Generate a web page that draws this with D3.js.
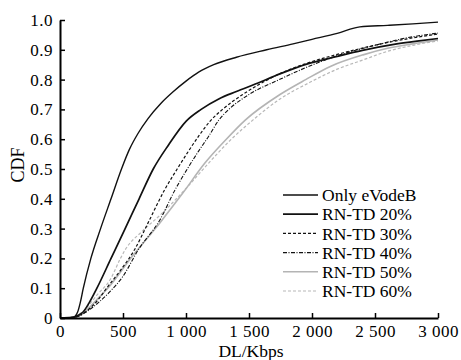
<!DOCTYPE html>
<html><head><meta charset="utf-8">
<script src="https://cdn.jsdelivr.net/npm/d3@7"></script>
<style>body{margin:0;background:#fff}text{font-family:"Liberation Serif","Times New Roman",serif;fill:#000}</style>
</head><body><svg id="c" width="461" height="360"></svg>
<script>
const seriesNames = ["Only eVodeB","RN-TD 20%","RN-TD 30%","RN-TD 40%","RN-TD 50%","RN-TD 60%"];
const xEvodeb = [0,100,120,140,160,185,245,322,405,488,550,620,700,800,900,1000,1100,1220,1400,1640,1850,2000,2200,2380,2600,2800,3000];
const yEvodeb = [0,0.002,0.006,0.02,0.05,0.1,0.2,0.3,0.4,0.5,0.565,0.62,0.67,0.72,0.76,0.795,0.825,0.85,0.875,0.9,0.92,0.935,0.955,0.977,0.982,0.987,0.993];
const x20 = [0,100,140,183,230,293,405,517,628,740,860,1000,1120,1260,1400,1550,1750,1958,2200,2400,2650,2850,3000];
const y20 = [0,0.002,0.008,0.02,0.05,0.1,0.2,0.3,0.4,0.5,0.58,0.66,0.7,0.735,0.76,0.785,0.82,0.852,0.878,0.898,0.918,0.93,0.938];
const x30 = [0,100,150,200,300,370,480,590,700,830,930,1020,1100,1190,1290,1450,1650,1800,1960,2250,2550,2800,3000];
const y30 = [0,0.002,0.008,0.02,0.06,0.1,0.16,0.228,0.32,0.43,0.5,0.56,0.61,0.66,0.7,0.75,0.8,0.83,0.855,0.89,0.92,0.94,0.953];
const x40 = [0,100,150,200,300,400,500,620,794,913,1010,1100,1180,1260,1340,1500,1740,1950,2200,2500,2750,3000];
const y40 = [0,0.002,0.006,0.018,0.05,0.09,0.14,0.228,0.33,0.43,0.5,0.56,0.61,0.664,0.7,0.75,0.8,0.84,0.88,0.915,0.94,0.956];
const x50 = [0,100,150,200,300,400,560,794,976,1150,1320,1470,1746,1950,2150,2405,2600,2800,3000];
const y50 = [0,0.002,0.008,0.022,0.065,0.11,0.2,0.32,0.42,0.52,0.6,0.664,0.75,0.8,0.845,0.883,0.905,0.92,0.933];
const x60 = [0,100,150,200,300,400,480,516,650,794,990,1180,1360,1530,1746,1980,2200,2405,2600,2800,3000];
const y60 = [0,0.003,0.012,0.03,0.08,0.13,0.2,0.228,0.29,0.345,0.43,0.52,0.6,0.664,0.735,0.79,0.835,0.866,0.895,0.915,0.93];
const xTicks = [0,500,1000,1500,2000,2500,3000];
const xTickLabels = ["0","500","1 000","1 500","2 000","2 500","3 000"];
const yTicks = [0,0.1,0.2,0.3,0.4,0.5,0.6,0.7,0.8,0.9,1.0];
const yTickLabels = ["0","0.1","0.2","0.3","0.4","0.5","0.6","0.7","0.8","0.9","1.0"];

const styles = [
  {stroke:"#111", width:1.4, dash:null},
  {stroke:"#111", width:1.7, dash:null},
  {stroke:"#111", width:1.2, dash:"3,2"},
  {stroke:"#111", width:1.1, dash:"4,1.5,1,1.5"},
  {stroke:"#b4b4b4", width:1.6, dash:null},
  {stroke:"#b8b8b8", width:1.2, dash:"3,2"}
];
const xs=[xEvodeb,x20,x30,x40,x50,x60], ys=[yEvodeb,y20,y30,y40,y50,y60];
const series = seriesNames.map((n,i)=>({name:n, pts: xs[i].map((x,j)=>[x, ys[i][j]]), st:styles[i]}));

const m={l:60,r:23,t:20,b:42}, W=461, H=360;
const svg=d3.select("#c");
const x=d3.scaleLinear().domain([0,3000]).range([m.l,W-m.r]);
const y=d3.scaleLinear().domain([0,1]).range([H-m.b,m.t]);

const line=d3.line().x(d=>x(d[0])).y(d=>y(d[1])).curve(d3.curveMonotoneX);
svg.append("g").selectAll("path").data(series.slice().reverse()).join("path")
  .attr("d",d=>line(d.pts)).attr("fill","none")
  .attr("stroke",d=>d.st.stroke).attr("stroke-width",d=>d.st.width)
  .attr("stroke-dasharray",d=>d.st.dash);

// axes
const xAxis=d3.axisBottom(x).tickValues(xTicks).tickSizeInner(-5).tickSizeOuter(0).tickPadding(7)
  .tickFormat((d,i)=>xTickLabels[i]);
const gx=svg.append("g").attr("transform",`translate(0,${y(0)})`).call(xAxis);
gx.select(".domain").attr("stroke","#000").attr("stroke-width",2);
gx.selectAll(".tick line").attr("stroke","#000").attr("stroke-width",1.5);
gx.selectAll("text").attr("font-size",17).attr("letter-spacing","0.5px").attr("fill","#000");

const yAxis=d3.axisLeft(y).tickValues(yTicks).tickSizeInner(-5).tickSizeOuter(0).tickPadding(7)
  .tickFormat((d,i)=>yTickLabels[i]);
const gy=svg.append("g").attr("transform",`translate(${x(0)},0)`).call(yAxis);
gy.select(".domain").attr("stroke","#000").attr("stroke-width",2);
gy.selectAll(".tick line").attr("stroke","#000").attr("stroke-width",1.5);
gy.selectAll("text").attr("font-size",17).attr("letter-spacing","0.5px").attr("fill","#000");
svg.selectAll(".tick text").attr("font-family",'"Liberation Serif","Times New Roman",serif');

svg.append("text").attr("x",251).attr("y",357).attr("text-anchor","middle")
  .attr("font-size",17.5).text("DL/Kbps");
svg.append("text").attr("transform","translate(24,165) rotate(-90)").attr("text-anchor","middle")
  .attr("font-size",18).text("CDF");

// legend
const lg=svg.append("g");
series.forEach((s,i)=>{
  const yy=195+i*19.2;
  lg.append("line").attr("x1",283).attr("x2",318).attr("y1",yy).attr("y2",yy)
    .attr("stroke",s.st.stroke).attr("stroke-width",s.st.width).attr("stroke-dasharray",s.st.dash);
  lg.append("text").attr("x",322).attr("y",yy).attr("dy","0.35em").attr("font-size",17.5).text(s.name);
});
</script></body></html>
